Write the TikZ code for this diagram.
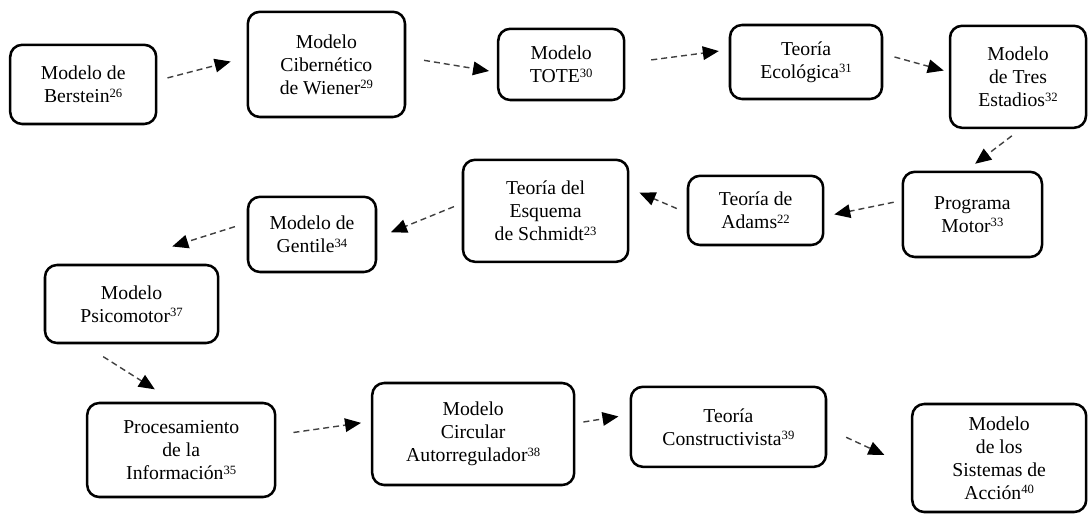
\documentclass[tikz,border=0pt]{standalone}
\usepackage{fontspec}
\setmainfont{Liberation Serif}
\newfontfamily\letraserif{Liberation Serif}
\usetikzlibrary{arrows.meta}
\newcommand{\nota}[1]{\raisebox{0.6ex}{\fontsize{9}{9}\selectfont #1}}

\begin{document}
\begin{tikzpicture}[
	caja/.style={draw,line width=1.8pt,rounded corners=0.3cm,align=center,inner sep=2pt,font=\letraserif\fontsize{14}{16.4}\selectfont},
	flecha/.style={-{Triangle[length=0.4cm,width=0.34cm,black]},dash pattern=on 0.15cm off 0.1cm,line width=1pt,draw=black!75}]
		\useasboundingbox (0,0) rectangle (27.2,13.15);
		% primera fila
		\node[caja,minimum width=3.65cm,minimum height=1.98cm] (bers) at (2.08,11.04) {Modelo de\\Berstein\nota{26}};
		\node[caja,minimum width=3.93cm,minimum height=2.63cm] (wien) at (8.16,11.54) {Modelo\\Cibernético\\de Wiener\nota{29}};
		\node[caja,minimum width=3.15cm,minimum height=1.78cm] (tote) at (14.03,11.54) {Modelo\\TOTE\nota{30}};
		\node[caja,minimum width=3.8cm,minimum height=1.85cm] (ecol) at (20.15,11.6) {Teoría\\Ecológica\nota{31}};
		\node[caja,minimum width=3.4cm,minimum height=2.55cm] (tres) at (25.45,11.23) {Modelo\\de Tres\\Estadios\nota{32}};
		% segunda fila
		\node[caja,minimum width=3.48cm,minimum height=2.13cm] (prog) at (24.31,7.79) {Programa\\Motor\nota{33}};
		\node[caja,minimum width=3.38cm,minimum height=1.73cm] (adam) at (18.89,7.89) {Teoría de\\Adams\nota{22}};
		\node[caja,minimum width=4.13cm,minimum height=2.55cm] (schm) at (13.64,7.88) {Teoría del\\Esquema\\de Schmidt\nota{23}};
		\node[caja,minimum width=3.2cm,minimum height=1.88cm] (gent) at (7.8,7.29) {Modelo de\\Gentile\nota{34}};
		\node[caja,minimum width=4.33cm,minimum height=1.95cm] (psic) at (3.29,5.55) {Modelo\\Psicomotor\nota{37}};
		% tercera fila
		\node[caja,minimum width=4.7cm,minimum height=2.35cm] (proc) at (4.53,1.9) {Procesamiento\\de la\\Información\nota{35}};
		\node[caja,minimum width=5.05cm,minimum height=2.55cm] (auto) at (11.83,2.3) {Modelo\\Circular\\Autorregulador\nota{38}};
		\node[caja,minimum width=4.88cm,minimum height=2cm] (cons) at (18.21,2.48) {Teoría\\Constructivista\nota{39}};
		\node[caja,minimum width=4.35cm,minimum height=2.7cm] (sist) at (24.98,1.7) {Modelo\\de los\\Sistemas de\\Acción\nota{40}};
		% flechas
		\draw[flecha,shorten <=0.26cm,shorten >=0.41cm] (bers.3.3) -- (wien.175.5);
		\draw[flecha,shorten <=0.45cm,shorten >=0.2cm] (wien.5.2) -- (tote.-173.9);
		\draw[flecha,shorten <=0.65cm,shorten >=0.25cm] (tote.1.4) -- (ecol.171.7);
		\draw[flecha,shorten <=0.29cm,shorten >=0.13cm] (ecol.6.9) -- (tres.176.1);
		\draw[flecha,shorten <=0.28cm,shorten >=0.28cm] (tres.-87.1) -- (prog.98.2);
		\draw[flecha,shorten <=0.2cm,shorten >=0.25cm] (prog.169.4) -- (adam.-5.4);
		\draw[flecha,shorten <=0.27cm,shorten >=0.27cm] (adam.-178.7) -- (schm.15.6);
		\draw[flecha,shorten <=0.21cm,shorten >=0.37cm] (schm.175.8) -- (gent.-3.5);
		\draw[flecha,shorten <=0.31cm,shorten >=1.43cm] (gent.170.9) -- (psic.109.6);
		\draw[flecha,shorten <=0.58cm,shorten >=0.58cm] (psic.220.5) -- (proc.98.4);
		\draw[flecha,shorten <=0.43cm,shorten >=0.25cm] (proc.9.7) -- (auto.173.7);
		\draw[flecha,shorten <=0.2cm,shorten >=0.28cm] (auto.6.2) -- (cons.173.3);
		\draw[flecha,shorten <=0.52cm,shorten >=0.73cm] (cons.-1.7) -- (sist.-174.4);
	\end{tikzpicture}
\end{document}
